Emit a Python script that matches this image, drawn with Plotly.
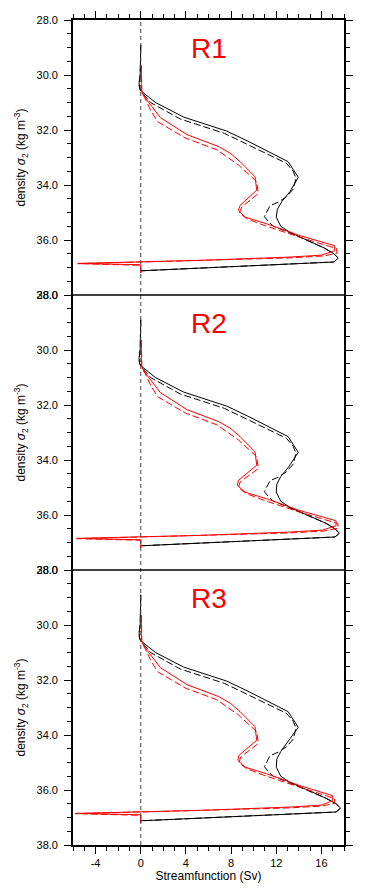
import plotly.graph_objects as go

PANELS = ["R1", "R2", "R3"]
X_TICKS = [-4, 0, 4, 8, 12, 16]
Y_TICKS = [28.0, 30.0, 32.0, 34.0, 36.0, 38.0]

# ---- black solid curve (density levels shared, streamfunction per panel)
BS_Y = [28.9, 29.5, 30.0, 30.3, 30.5, 30.57, 31.0, 31.53, 32.04, 32.41, 33.15, 33.72,
        34.25, 34.6, 34.88, 35.17, 35.5, 35.72, 35.97, 36.3, 36.5, 36.66, 36.8, 37.12, 37.12]
BS_X_R1 = [0.0, 0.0, -0.05, -0.15, -0.1, 0.0, 1.3, 3.8, 7.62, 9.5, 13.05, 13.95,
           13.2, 12.5, 12.1, 12.0, 12.4, 13.2, 14.6, 16.3, 17.1, 17.5, 17.1, 0.2, 0.0]
BS_X_R2 = [0.0, 0.0, -0.05, -0.15, -0.1, 0.0, 1.3, 3.8, 7.62, 9.5, 13.05, 13.95,
           13.1, 12.4, 12.05, 12.0, 12.4, 13.2, 14.6, 16.4, 17.2, 17.6, 17.2, 0.2, 0.0]
BS_X_R3 = [0.0, 0.0, -0.05, -0.15, -0.1, 0.0, 1.3, 3.8, 7.62, 9.5, 13.05, 13.95,
           13.0, 12.4, 12.05, 12.0, 12.4, 13.2, 14.6, 16.4, 17.3, 17.7, 17.3, 0.2, 0.0]

# ---- black dashed curve
BD_Y = [28.9, 29.5, 30.0, 30.3, 30.5, 30.57, 31.0, 31.6, 32.12, 33.21, 33.5, 33.76,
        34.15, 34.43, 34.62, 34.75, 35.15, 35.33, 35.5, 35.72, 35.97, 36.3, 36.5,
        36.66, 36.8, 37.12, 37.12]
BD_X_R1 = [0.0, 0.0, -0.05, -0.15, -0.1, 0.0, 0.86, 3.5, 7.4, 12.9, 13.5, 13.75,
           13.5, 12.9, 12.2, 11.45, 10.95, 11.3, 11.75, 13.1, 14.5, 16.3, 17.1,
           17.5, 17.1, 0.2, 0.0]
BD_X_R2 = [0.0, 0.0, -0.05, -0.15, -0.1, 0.0, 0.86, 3.5, 7.4, 12.9, 13.5, 13.75,
           13.5, 12.9, 12.2, 11.45, 10.95, 11.3, 11.75, 13.1, 14.5, 16.4, 17.2,
           17.6, 17.2, 0.2, 0.0]
BD_X_R3 = [0.0, 0.0, -0.05, -0.15, -0.1, 0.0, 0.86, 3.5, 7.4, 12.9, 13.5, 13.75,
           13.5, 12.9, 12.2, 11.45, 10.95, 11.3, 11.75, 13.1, 14.5, 16.4, 17.3,
           17.7, 17.3, 0.2, 0.0]

# ---- red solid curve
RS_Y = [29.65, 30.0, 30.3, 30.57, 30.76, 31.55, 32.17, 32.6, 32.84, 33.15, 33.7, 34.19,
        34.74, 34.92, 35.17, 35.41, 35.84, 36.21, 36.39, 36.55, 36.62, 36.74, 36.79,
        36.85, 36.9, 37.2]
RS_X_R1 = [0.05, 0.08, 0.05, 0.05, 0.26, 1.74, 4.1, 6.88, 7.92, 8.8, 10.12, 10.27,
           8.8, 8.65, 9.24, 11.15, 14.1, 17.18, 17.18, 16.0, 13.2, 5.3, 0.0,
           -5.5, 0.0, 0.0]
RS_X_R2 = [0.05, 0.08, 0.05, 0.05, 0.26, 1.74, 4.1, 6.88, 7.92, 8.8, 10.12, 10.27,
           8.65, 8.55, 9.24, 11.15, 14.1, 17.3, 17.3, 16.1, 13.2, 5.3, 0.0,
           -5.6, 0.0, 0.0]
RS_X_R3 = [0.05, 0.08, 0.05, 0.05, 0.26, 1.74, 4.1, 6.88, 7.92, 8.8, 10.12, 10.27,
           8.7, 8.6, 9.24, 11.15, 14.1, 17.0, 17.0, 16.0, 13.2, 5.3, 0.0,
           -5.7, 0.0, 0.0]

# ---- red dashed curve
RD_Y = [29.65, 30.0, 30.3, 30.6, 30.88, 31.3, 31.7, 32.29, 32.72, 33.27, 33.88, 34.31,
        34.8, 35.01, 35.23, 35.5, 35.9, 36.31, 36.48, 36.58, 36.65, 36.76, 36.8,
        36.86, 36.92, 37.2]
RD_X_R1 = [0.05, 0.08, 0.05, 0.1, 0.41, 0.9, 1.5, 3.94, 6.74, 8.65, 10.27, 10.41,
           8.95, 8.74, 9.39, 11.15, 14.1, 17.33, 17.39, 16.2, 13.3, 5.0, 0.0,
           -5.6, 0.0, 0.0]
RD_X_R2 = [0.05, 0.08, 0.05, 0.1, 0.41, 0.9, 1.5, 3.94, 6.74, 8.65, 10.27, 10.41,
           8.8, 8.65, 9.39, 11.15, 14.1, 17.45, 17.5, 16.3, 13.3, 5.0, 0.0,
           -5.7, 0.0, 0.0]
RD_X_R3 = [0.05, 0.08, 0.05, 0.1, 0.41, 0.9, 1.5, 3.94, 6.74, 8.65, 10.27, 10.41,
           8.85, 8.7, 9.39, 11.15, 14.1, 17.15, 17.2, 16.1, 13.3, 5.0, 0.0,
           -5.8, 0.0, 0.0]

BLACK_SOLID = [BS_X_R1, BS_X_R2, BS_X_R3]
BLACK_DASH = [BD_X_R1, BD_X_R2, BD_X_R3]
RED_SOLID = [RS_X_R1, RS_X_R2, RS_X_R3]
RED_DASH = [RD_X_R1, RD_X_R2, RD_X_R3]

FONT = "Liberation Sans, Arial, Helvetica, sans-serif"
DOMAINS = [[2 / 3, 1.0], [1 / 3, 2 / 3], [0.0, 1 / 3]]

fig = go.Figure()

for i in range(3):
    xa = "x" if i == 0 else f"x{i + 1}"
    ya = "y" if i == 0 else f"y{i + 1}"
    specs = [
        (BLACK_DASH[i], BD_Y, "black", "7px,3px"),
        (BLACK_SOLID[i], BS_Y, "black", "solid"),
        (RED_DASH[i], RD_Y, "#ff0000", "7px,3px"),
        (RED_SOLID[i], RS_Y, "#ff0000", "solid"),
    ]
    for xs, ys, col, dash in specs:
        fig.add_trace(go.Scatter(x=xs, y=ys, mode="lines", xaxis=xa, yaxis=ya,
                                 line=dict(color=col, width=1, dash=dash),
                                 hoverinfo="skip", showlegend=False))
    fig.add_annotation(x=6, y=29.05, xref=xa, yref=ya, text=PANELS[i], showarrow=False,
                       font=dict(family=FONT, size=28, color="#ff0000"),
                       xanchor="center", yanchor="middle")

fig.add_shape(type="line", xref="x", yref="paper", x0=0, x1=0, y0=0, y1=1,
              line=dict(color="#444444", width=1, dash="4px,3px"))
for yb in [1 / 3, 2 / 3]:
    fig.add_shape(type="line", xref="paper", yref="paper", x0=0, x1=1, y0=yb, y1=yb,
                  line=dict(color="black", width=1.6))

layout = dict(
    width=357, height=887,
    margin=dict(l=65, r=21, t=12, b=50, autoexpand=False),
    plot_bgcolor="white", paper_bgcolor="white",
    font=dict(family=FONT, size=11, color="black"),
    showlegend=False,
)

ytitle = "density <i>σ</i><sub>2</sub> (kg m<sup>-3</sup>)"
for i in range(3):
    xk = "xaxis" if i == 0 else f"xaxis{i + 1}"
    yk = "yaxis" if i == 0 else f"yaxis{i + 1}"
    ya = "y" if i == 0 else f"y{i + 1}"
    xa = "x" if i == 0 else f"x{i + 1}"
    xax = dict(domain=[0, 1], anchor=ya, range=[-6, 18], showgrid=False, zeroline=False,
               automargin=False, linecolor="black", linewidth=1.6, mirror=False,
               tickvals=X_TICKS, ticktext=[str(v) for v in X_TICKS])
    if i == 0:
        xax.update(side="top", showline=True, ticks="outside", ticklen=7, tickwidth=1,
                   tickcolor="black", showticklabels=False,
                   minor=dict(dtick=1, tick0=0, ticks="outside", ticklen=4, tickcolor="black"))
    elif i == 1:
        xax.update(showline=False, ticks="", showticklabels=False)
    else:
        xax.update(side="bottom", showline=True, ticks="outside", ticklen=7, tickwidth=1,
                   tickcolor="black", showticklabels=True, tickfont=dict(size=11),
                   ticklabelstandoff=0,
                   minor=dict(dtick=1, tick0=0, ticks="outside", ticklen=4, tickcolor="black"),
                   title=dict(text="Streamfunction (Sv)", font=dict(size=12), standoff=4))
    yax = dict(domain=DOMAINS[i], anchor=xa, range=[38, 28], showgrid=False, zeroline=False,
               automargin=False,
               showline=True, linecolor="black", linewidth=1.6, mirror="ticks",
               ticks="outside", ticklen=7, tickwidth=1, tickcolor="black",
               tickvals=Y_TICKS, ticktext=[f"{v:.1f}" for v in Y_TICKS],
               tickfont=dict(size=11), ticklabelstandoff=4,
               minor=dict(dtick=0.5, tick0=28, ticks="outside", ticklen=4, tickcolor="black"),
               title=dict(text=ytitle, font=dict(size=12), standoff=8))
    layout[xk] = xax
    layout[yk] = yax

fig.update_layout(**layout)
fig.write_html("out.html")
